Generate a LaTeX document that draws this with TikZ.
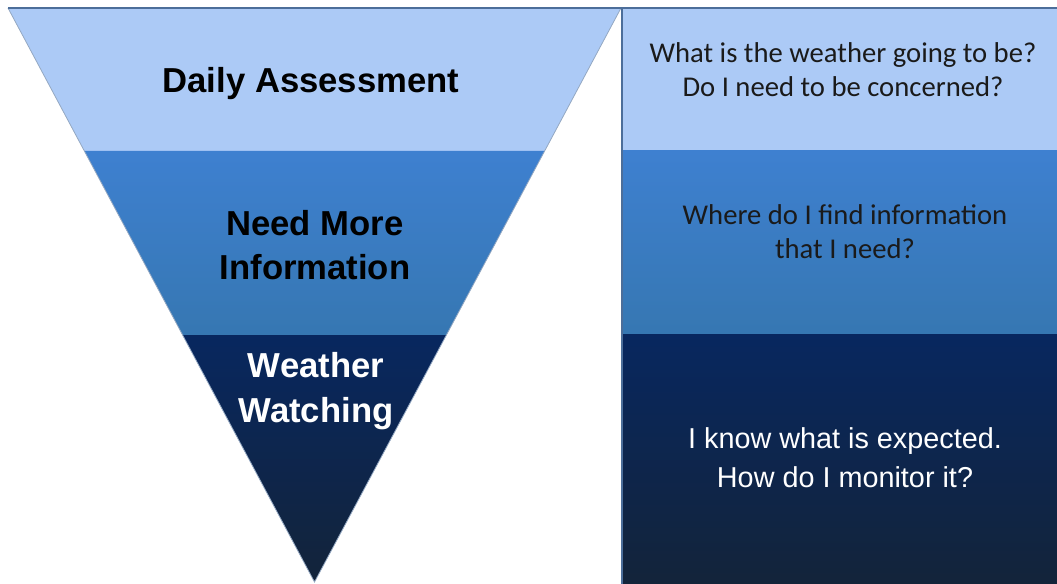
\documentclass[tikz,border=0pt]{standalone}
\usepackage{fontspec}
\setmainfont{Liberation Sans}
\newfontfamily\calibri{Carlito}
\usetikzlibrary{calc}

\definecolor{tierlight}{HTML}{ACCAF6}
\definecolor{tiermidtop}{HTML}{3E80D0}
\definecolor{tiermidbot}{HTML}{3677B2}
\definecolor{tierdarktop}{HTML}{08275F}
\definecolor{tierdarkbot}{HTML}{13243A}
\definecolor{edgeblue}{HTML}{4C6E9A}
\definecolor{asktext}{HTML}{1A1A1A}

\tikzset{
  tier title/.style={font=\bfseries\fontsize{26}{33.5}\selectfont, align=center},
  ask text/.style={font=\calibri\fontsize{21.5}{25.5}\selectfont, align=center, text=asktext},
  watch text/.style={font=\fontsize{21.6}{29}\selectfont, align=center, text=white},
}

\begin{document}
\begin{tikzpicture}[x=0.75pt, y=-0.75pt]
  \useasboundingbox (0,0) rectangle (1057,584);

  % funnel corners
  \coordinate (tl) at (8,8);
  \coordinate (tr) at (621,8);
  \coordinate (apex) at (314.5,582);
  \coordinate (l1) at ($(tl)!0.249!(apex)$);
  \coordinate (r1) at ($(tr)!0.249!(apex)$);
  \coordinate (l2) at ($(tl)!0.570!(apex)$);
  \coordinate (r2) at ($(tr)!0.570!(apex)$);

  % funnel bands
  \fill[tierlight] (tl) -- (tr) -- (r1) -- (l1) -- cycle;
  \shade[top color=tiermidtop, bottom color=tiermidbot] (l1) -- (r1) -- (r2) -- (l2) -- cycle;
  \shade[top color=tierdarktop, bottom color=tierdarkbot] (l2) -- (r2) -- (apex) -- cycle;
  \draw[edgeblue!60, line width=0.6pt] (tl) -- (apex) -- (tr);
  \draw[edgeblue, line width=1pt] (tl) -- (tr);

  % question panel
  \fill[tierlight] (622,8) rectangle (1057,151);
  \shade[top color=tiermidtop, bottom color=tiermidbot] (622,151) rectangle (1057,335);
  \shade[top color=tierdarktop, bottom color=tierdarkbot] (622,335) rectangle (1057,584);
  \draw[edgeblue, line width=1.2pt] (622,584) -- (622,8) -- (1057,8);

  \node[tier title] (daily) at (311,84) {Daily Assessment};
  \node[tier title] (needmore) at (315,245) {Need More\\Information};
  \node[tier title, text=white] (watching) at (316,391) {Weather\\Watching};

  \node[ask text] (askdaily) at (843,70) {What is the weather going to be?\\Do I need to be concerned?};
  \node[ask text] (askmore) at (845,232) {Where do I find information\\that I need?};
  \node[watch text] (askwatch) at (845,458) {I know what is expected.\\How do I monitor it?};
\end{tikzpicture}
\end{document}
